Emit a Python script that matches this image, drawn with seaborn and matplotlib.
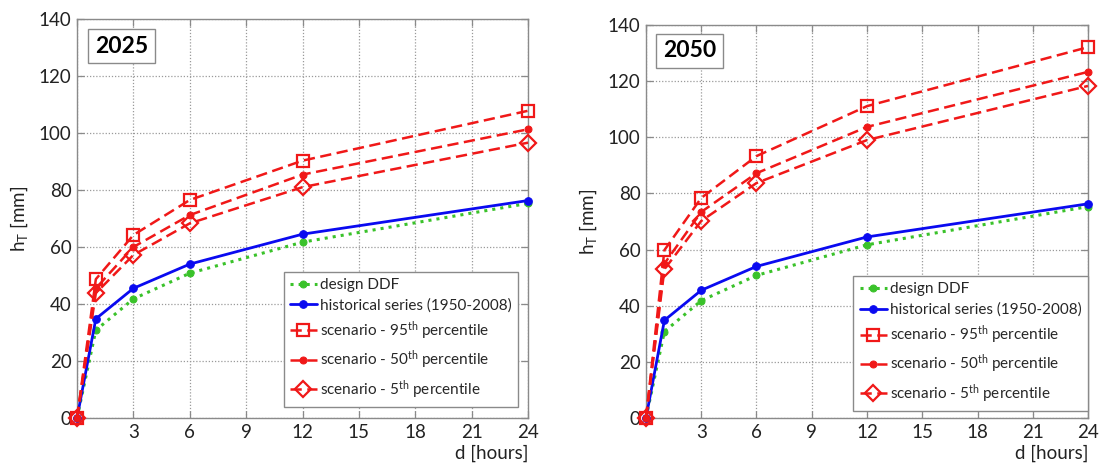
import numpy as np
import pandas as pd
import matplotlib
matplotlib.use("Agg")
import matplotlib.pyplot as plt
import seaborn as sns

# ---- data ----
durations = [0, 1, 3, 6, 12, 24]
x_ticks = [0, 3, 6, 9, 12, 15, 18, 21, 24]
y_ticks = [0, 20, 40, 60, 80, 100, 120, 140]

design_ddf = [0, 30.8, 41.8, 50.8, 61.7, 75.3]
historical = [0, 34.8, 45.5, 54.0, 64.5, 76.3]

p95_2025 = [0, 48.7, 64.2, 76.5, 90.3, 107.8]
p50_2025 = [0, 45.5, 60.0, 71.2, 85.4, 101.3]
p05_2025 = [0, 43.8, 57.2, 68.3, 81.0, 96.6]

p95_2050 = [0, 59.8, 78.4, 93.3, 111.1, 132.1]
p50_2050 = [0, 55.0, 73.4, 87.2, 103.7, 123.3]
p05_2050 = [0, 53.0, 70.2, 83.7, 99.0, 118.3]

panel_titles = ["2025", "2050"]
legend_labels = ["design DDF", "historical series (1950-2008)",
                 r"scenario - 95$^{\mathrm{th}}$ percentile",
                 r"scenario - 50$^{\mathrm{th}}$ percentile",
                 r"scenario - 5$^{\mathrm{th}}$ percentile"]

sns.set_theme(style="white")
plt.rcParams["font.family"] = ["Lato", "DejaVu Sans"]
plt.rcParams["mathtext.fontset"] = "custom"
plt.rcParams["mathtext.rm"] = "Lato"
plt.rcParams["mathtext.it"] = "Lato:italic"
plt.rcParams["mathtext.bf"] = "Lato:bold"

RED = "#f01818"
BLUE = "#0a0af0"
GREEN = "#3ac22a"
EDGE = "#8a8a8a"
DASH = (0, (4.5, 2.2))

fig = plt.figure(figsize=(10.99, 4.63), dpi=100)
ax1 = fig.add_axes([0.0701, 0.0972, 0.4104, 0.8618])
ax2 = fig.add_axes([0.5878, 0.0972, 0.4022, 0.8488])

panels = [(ax1, p95_2025, p50_2025, p05_2025, 0.04, 0.932, (0.978, 0.028)),
          (ax2, p95_2050, p50_2050, p05_2050, 0.038, 0.934, (1.0, 0.018))]

for (ax, p95, p50, p05, tx, ty, lanchor), title in zip(panels, panel_titles):
    sns.lineplot(x=durations, y=design_ddf, ax=ax, color=GREEN, linestyle=":",
                 linewidth=2.2, marker="o", markersize=5, markeredgecolor=GREEN,
                 label=legend_labels[0], clip_on=False, zorder=3)
    sns.lineplot(x=durations, y=historical, ax=ax, color=BLUE, linestyle="-",
                 linewidth=2.0, marker="o", markersize=5.5, markeredgecolor=BLUE,
                 label=legend_labels[1], clip_on=False, zorder=4)
    sns.lineplot(x=durations, y=p95, ax=ax, color=RED, linestyle=DASH,
                 linewidth=1.8, marker="s", markersize=8, markerfacecolor="none",
                 markeredgecolor=RED, markeredgewidth=1.6,
                 label=legend_labels[2], clip_on=False, zorder=5)
    sns.lineplot(x=durations, y=p50, ax=ax, color=RED, linestyle=DASH,
                 linewidth=1.8, marker="o", markersize=5, markeredgecolor=RED,
                 label=legend_labels[3], clip_on=False, zorder=5)
    sns.lineplot(x=durations, y=p05, ax=ax, color=RED, linestyle=DASH,
                 linewidth=1.8, marker="D", markersize=8, markerfacecolor="none",
                 markeredgecolor=RED, markeredgewidth=1.6,
                 label=legend_labels[4], clip_on=False, zorder=5)

    ax.set_xlim(0, 24)
    ax.set_ylim(0, 140)
    ax.set_xticks(x_ticks)
    ax.set_xticklabels([""] + [str(v) for v in x_ticks[1:]])
    ax.set_yticks(y_ticks)
    ax.set_yticklabels([str(v) for v in y_ticks])
    ax.grid(True, color="#9a9a9a", linestyle=(0, (1, 1.5)), linewidth=0.9)
    ax.tick_params(direction="in", length=5, width=0.9, color=EDGE,
                   labelsize=13.5, labelcolor="#222222", top=True, right=True,
                   pad=4, bottom=True, left=True)
    for sp in ax.spines.values():
        sp.set_color(EDGE)
        sp.set_linewidth(1.0)
    ax.set_xlabel("")
    ax.set_ylabel("h$_\\mathrm{T}$ [mm]", fontsize=13.5, color="#222222", labelpad=6)
    ax.text(1.0, -0.068, "d [hours]", transform=ax.transAxes, ha="right", va="top",
            fontsize=13.5, color="#222222")
    ax.text(tx, ty, title, transform=ax.transAxes, ha="left", va="center",
            fontsize=16.5, fontweight="bold", color="black",
            bbox=dict(boxstyle="square,pad=0.3", facecolor="white", edgecolor=EDGE,
                      linewidth=1.0))
    leg = ax.legend(loc="lower right", bbox_to_anchor=lanchor, fontsize=11,
                    handlelength=1.8, handletextpad=0.2, borderpad=0.4,
                    labelspacing=0.42, fancybox=False, framealpha=1,
                    edgecolor=EDGE, borderaxespad=0)
    leg.get_frame().set_linewidth(1.0)

fig.savefig("out.png", dpi=100)
